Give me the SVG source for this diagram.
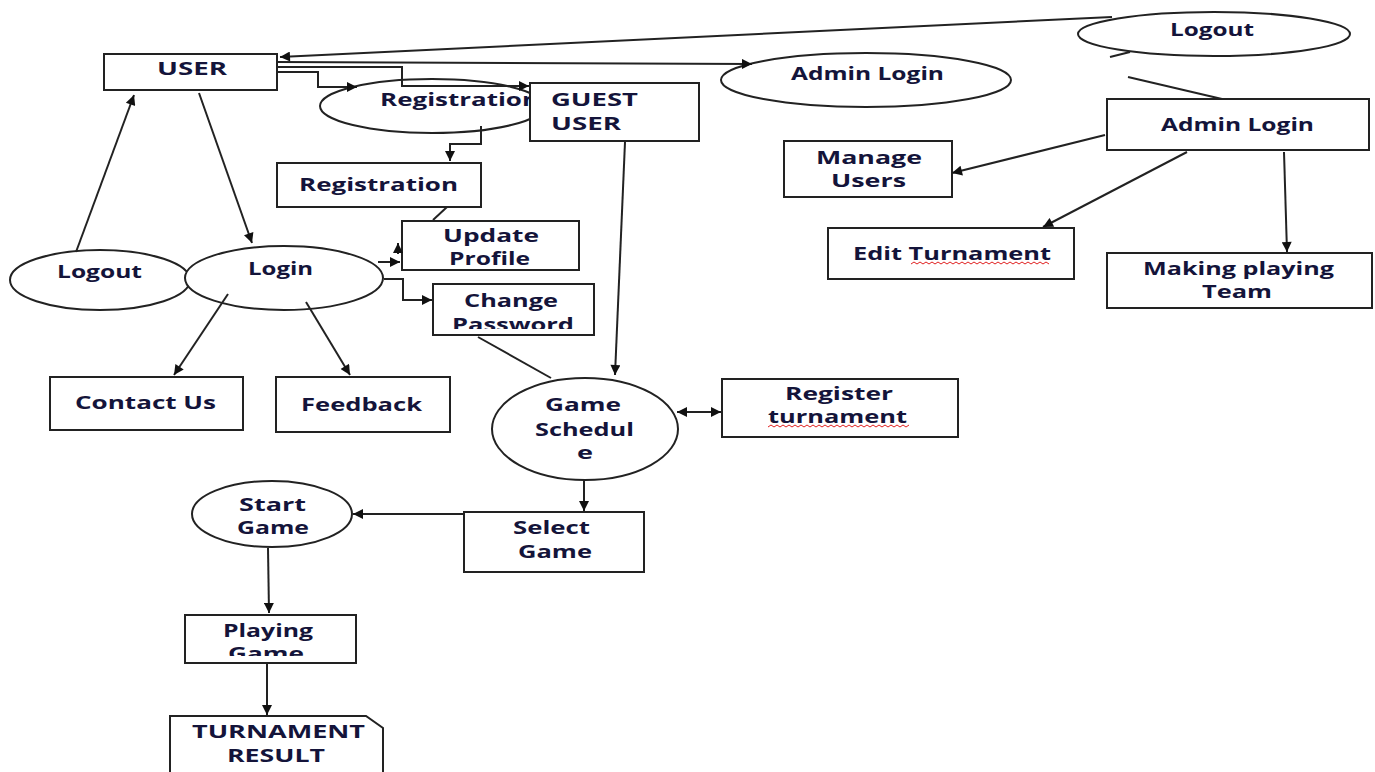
<svg xmlns="http://www.w3.org/2000/svg" width="1375" height="772" viewBox="0 0 1375 772">
<style>
.s{fill:#fff;stroke:#222;stroke-width:2}
.t{font-family:"Open Sans","DejaVu Sans",sans-serif;font-weight:bold;font-size:17px;fill:#14143a}
.c{fill:none;stroke:#222;stroke-width:2}
.a{marker-end:url(#arr)}
.w{fill:none;stroke:#e02020;stroke-width:1}
</style>
<defs>
<marker id="arr" viewBox="0 0 10 10" refX="10" refY="5" markerWidth="12" markerHeight="10" markerUnits="userSpaceOnUse" orient="auto-start-reverse"><path d="M0,0 L10,5 L0,10 z" fill="#111"/></marker>
<clipPath id="cpPass"><rect x="433" y="284" width="161" height="45"/></clipPath>
<clipPath id="cpPlay"><rect x="185" y="615" width="171" height="41"/></clipPath>
</defs>
<rect width="1375" height="772" fill="#fff"/>

<g id="user"><rect class="s" x="104" y="54" width="173" height="36"/><text class="t" x="157" y="75" textLength="70" lengthAdjust="spacingAndGlyphs">USER</text></g>
<g id="registration-ellipse"><ellipse class="s" cx="432" cy="106" rx="112" ry="27"/><text class="t" x="380" y="106" textLength="159" lengthAdjust="spacingAndGlyphs">Registration</text></g>
<g id="guest-user"><rect class="s" x="530" y="83" width="169" height="58"/><text class="t" x="551" y="106" textLength="87" lengthAdjust="spacingAndGlyphs">GUEST</text><text class="t" x="551" y="130" textLength="70" lengthAdjust="spacingAndGlyphs">USER</text></g>
<g id="registration-box"><rect class="s" x="277" y="163" width="204" height="44"/><text class="t" x="299" y="191" textLength="159" lengthAdjust="spacingAndGlyphs">Registration</text></g>
<g id="update-profile"><rect class="s" x="402" y="221" width="177" height="49"/><text class="t" x="443" y="242" textLength="96" lengthAdjust="spacingAndGlyphs">Update</text><text class="t" x="449" y="265" textLength="81" lengthAdjust="spacingAndGlyphs">Profile</text></g>
<g id="change-password"><rect class="s" x="433" y="284" width="161" height="51"/><text class="t" x="464" y="307" textLength="94" lengthAdjust="spacingAndGlyphs">Change</text><text class="t" x="452" y="331" textLength="122" lengthAdjust="spacingAndGlyphs" clip-path="url(#cpPass)">Password</text></g>
<g id="logout-left"><ellipse class="s" cx="100" cy="280" rx="90" ry="30"/><text class="t" x="57" y="278" textLength="85" lengthAdjust="spacingAndGlyphs">Logout</text></g>
<g id="login"><ellipse class="s" cx="284" cy="278" rx="99" ry="32"/><text class="t" x="248" y="275" textLength="65" lengthAdjust="spacingAndGlyphs">Login</text></g>
<g id="contact-us"><rect class="s" x="50" y="377" width="193" height="53"/><text class="t" x="75" y="409" textLength="141" lengthAdjust="spacingAndGlyphs">Contact Us</text></g>
<g id="feedback"><rect class="s" x="276" y="377" width="174" height="55"/><text class="t" x="301" y="411" textLength="121" lengthAdjust="spacingAndGlyphs">Feedback</text></g>
<g id="game-schedule"><ellipse class="s" cx="585" cy="429" rx="93" ry="51"/><text class="t" x="545" y="411" textLength="76" lengthAdjust="spacingAndGlyphs">Game</text><text class="t" x="535" y="436" textLength="99" lengthAdjust="spacingAndGlyphs">Schedul</text><text class="t" x="577" y="459" textLength="16" lengthAdjust="spacingAndGlyphs">e</text></g>
<g id="register-turnament"><rect class="s" x="722" y="379" width="236" height="58"/><text class="t" x="785" y="400" textLength="108" lengthAdjust="spacingAndGlyphs">Register</text><text class="t" x="768" y="423" textLength="139" lengthAdjust="spacingAndGlyphs">turnament</text><path class="w" d="M768,427 l3,-2 l3,2 l3,-2 l3,2 l3,-2 l3,2 l3,-2 l3,2 l3,-2 l3,2 l3,-2 l3,2 l3,-2 l3,2 l3,-2 l3,2 l3,-2 l3,2 l3,-2 l3,2 l3,-2 l3,2 l3,-2 l3,2 l3,-2 l3,2 l3,-2 l3,2 l3,-2 l3,2 l3,-2 l3,2 l3,-2 l3,2 l3,-2 l3,2 l3,-2 l3,2 l3,-2 l3,2 l3,-2 l3,2 l3,-2 l3,2 l3,-2 l3,2 l3,-2"/></g>
<g id="select-game"><rect class="s" x="464" y="512" width="180" height="60"/><text class="t" x="513" y="534" textLength="77" lengthAdjust="spacingAndGlyphs">Select</text><text class="t" x="518" y="558" textLength="74" lengthAdjust="spacingAndGlyphs">Game</text></g>
<g id="start-game"><ellipse class="s" cx="272" cy="514" rx="80" ry="33"/><text class="t" x="239" y="511" textLength="67" lengthAdjust="spacingAndGlyphs">Start</text><text class="t" x="237" y="534" textLength="72" lengthAdjust="spacingAndGlyphs">Game</text></g>
<g id="playing-game"><rect class="s" x="185" y="615" width="171" height="48"/><text class="t" x="223" y="637" textLength="90" lengthAdjust="spacingAndGlyphs">Playing</text><text class="t" x="228" y="660" textLength="76" lengthAdjust="spacingAndGlyphs" clip-path="url(#cpPlay)">Game</text></g>
<g id="turnament-result"><path class="s" d="M170,773 V716 H366 L383,728 V773"/><text class="t" x="192" y="738" textLength="173" lengthAdjust="spacingAndGlyphs">TURNAMENT</text><text class="t" x="227" y="762" textLength="98" lengthAdjust="spacingAndGlyphs">RESULT</text></g>
<g id="admin-login-ellipse"><ellipse class="s" cx="866" cy="80" rx="145" ry="27"/><text class="t" x="791" y="80" textLength="153" lengthAdjust="spacingAndGlyphs">Admin Login</text></g>
<g id="logout-right"><ellipse class="s" cx="1214" cy="34" rx="136" ry="22"/><text class="t" x="1170" y="36" textLength="84" lengthAdjust="spacingAndGlyphs">Logout</text></g>
<g id="admin-login-box"><rect class="s" x="1107" y="99" width="262" height="51"/><text class="t" x="1161" y="131" textLength="153" lengthAdjust="spacingAndGlyphs">Admin Login</text></g>
<g id="manage-users"><rect class="s" x="784" y="141" width="168" height="56"/><text class="t" x="816" y="164" textLength="106" lengthAdjust="spacingAndGlyphs">Manage</text><text class="t" x="831" y="187" textLength="75" lengthAdjust="spacingAndGlyphs">Users</text></g>
<g id="edit-turnament"><rect class="s" x="828" y="228" width="246" height="51"/><text class="t" x="853" y="260" textLength="198" lengthAdjust="spacingAndGlyphs">Edit Turnament</text><path class="w" d="M911,264 l3,-2 l3,2 l3,-2 l3,2 l3,-2 l3,2 l3,-2 l3,2 l3,-2 l3,2 l3,-2 l3,2 l3,-2 l3,2 l3,-2 l3,2 l3,-2 l3,2 l3,-2 l3,2 l3,-2 l3,2 l3,-2 l3,2 l3,-2 l3,2 l3,-2 l3,2 l3,-2 l3,2 l3,-2 l3,2 l3,-2 l3,2 l3,-2 l3,2 l3,-2 l3,2 l3,-2 l3,2 l3,-2 l3,2 l3,-2 l3,2 l3,-2 l3,2"/></g>
<g id="making-playing-team"><rect class="s" x="1107" y="253" width="265" height="55"/><text class="t" x="1143" y="275" textLength="191" lengthAdjust="spacingAndGlyphs">Making playing</text><text class="t" x="1202" y="298" textLength="70" lengthAdjust="spacingAndGlyphs">Team</text></g>

<g id="connectors">
<path class="c a" d="M76,252 L134,95"/>
<path class="c a" d="M199,93 L252,243"/>
<path class="c a" d="M277,72 H318 V87 H357"/>
<path class="c a" d="M277,67 H402 V86 H529"/>
<path class="c a" d="M277,62 L752,64"/>
<path class="c a" d="M1112,17 L280,57"/>
<path class="c" d="M1110,57 L1130,52"/>
<path class="c" d="M1128,77 L1222,99"/>
<path class="c a" d="M481,126 V144 H450 V161"/>
<path class="c" d="M447,207 L433,220"/>
<path class="c a" d="M378,262 H400"/>
<path class="c a" d="M398,254 V243"/>
<path class="c a" d="M384,279 H403 V300 H432"/>
<path class="c" d="M478,337 L551,378"/>
<path class="c a" d="M625,142 L615,375"/>
<path class="c a" d="M228,294 L174,375"/>
<path class="c a" d="M306,302 L350,375"/>
<path class="c a" d="M1105,135 L952,173"/>
<path class="c a" d="M1187,152 L1043,227"/>
<path class="c a" d="M1284,152 L1287,252"/>
<path class="c a" d="M677,412 L721,412" marker-start="url(#arr)"/>
<path class="c a" d="M584,480 V511"/>
<path class="c a" d="M464,514 L353,514"/>
<path class="c a" d="M268,548 L269,613"/>
<path class="c a" d="M267,663 V715"/>
</g>
</svg>
